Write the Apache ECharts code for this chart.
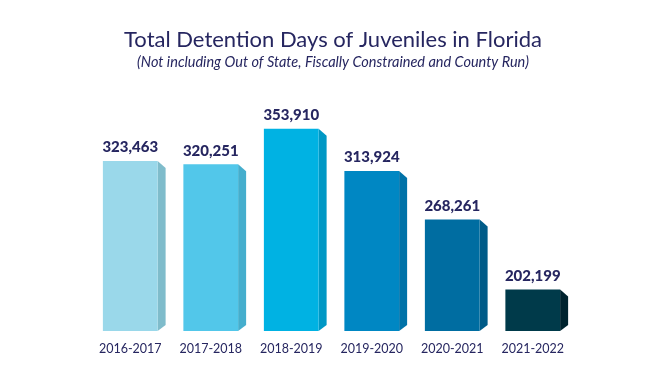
<!DOCTYPE html>
<html><head><meta charset="utf-8">
<script src="https://cdn.jsdelivr.net/npm/echarts@6/dist/echarts.min.js"></script>
<style>html,body{margin:0;padding:0;background:#fff}#c{width:666px;height:378px}</style>
</head><body><div id="c"></div>
<script>
const categories = ['2016-2017','2017-2018','2018-2019','2019-2020','2020-2021','2021-2022'];
const values = [323463, 320251, 353910, 313924, 268261, 202199];
const frontColors = ['#9AD8EA','#52C7EA','#00B2E3','#0087C3','#006DA1','#003A4A'];
const sideColors  = ['#7FBCCB','#45AECD','#0098C5','#0072A8','#005B88','#00232E'];
const navy = '#262660';
const chart = echarts.init(document.getElementById('c'), null, {renderer:'canvas'});
chart.setOption({
  backgroundColor:'#fff',
  animation:false,
  title:[{
    text:'Total Detention Days of Juveniles in Florida',
    left:'center', top:24,
    textStyle:{fontFamily:'Lato',fontWeight:'normal',fontSize:22,color:navy}
  },{
    text:'(Not including Out of State, Fiscally Constrained and County Run)',
    left:'center', top:50,
    textStyle:{fontFamily:'Lato',fontStyle:'italic',fontWeight:'normal',fontSize:14.5,color:navy}
  }],
  grid:{left:90, right:93, top:100, bottom:47},
  xAxis:{type:'category', data:categories,
    axisLine:{show:false}, axisTick:{show:false},
    axisLabel:{interval:0, color:navy, fontFamily:'Lato', fontSize:12.5, margin:11}},
  yAxis:{type:'value', min:163000, max:381000, show:false, splitLine:{show:false}},
  series:[{
    type:'custom',
    data:values.map((v,i)=>[i,v]),
    renderItem:function(params, api){
      const i = api.value(0);
      const top = api.coord([i, api.value(1)]);
      const bot = api.coord([i, 163000]);
      const band = api.size([1,0])[0];
      const w = band*0.68, sw = 8;
      const x0 = top[0]-w/2, x1 = top[0]+w/2;
      const yT = top[1], yB = bot[1];
      return {type:'group', children:[
        {type:'polygon', shape:{points:[[x1,yT],[x1+sw,yT+7],[x1+sw,yB-6],[x1,yB]]},
          style:{fill:sideColors[i]}},
        {type:'rect', shape:{x:x0,y:yT,width:w,height:yB-yT}, style:{fill:frontColors[i]}},
        {type:'text', x:top[0], y:yT-6, style:{
          text:values[i].toLocaleString('en-US'), fill:navy, font:'900 15px Lato',
          align:'center', verticalAlign:'bottom'}}
      ]};
    }
  }]
});
</script></body></html>
